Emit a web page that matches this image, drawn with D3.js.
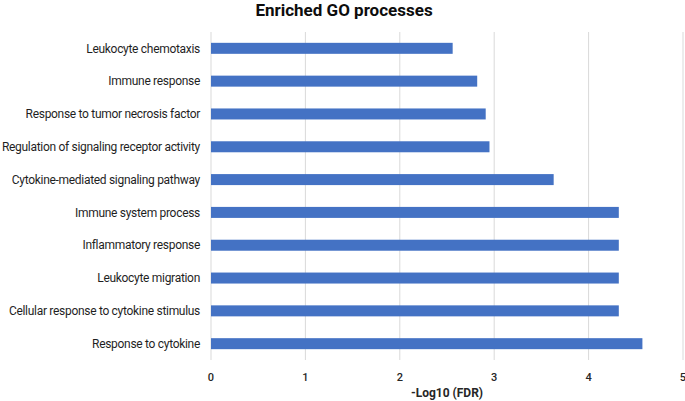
<!DOCTYPE html>
<html><head><meta charset="utf-8">
<script src="https://cdn.jsdelivr.net/npm/d3@7"></script>
<style>body{margin:0;background:#fff;}svg{display:block;font-family:Roboto,"Noto Sans",sans-serif;}</style>
</head><body>
<svg id="chart" width="685" height="401"></svg>
<script>
const categories = ["Leukocyte chemotaxis","Immune response","Response to tumor necrosis factor","Regulation of signaling receptor activity","Cytokine-mediated signaling pathway","Immune system process","Inflammatory response","Leukocyte migration","Cellular response to cytokine stimulus","Response to cytokine"];
const values = [2.56, 2.82, 2.91, 2.95, 3.63, 4.32, 4.32, 4.32, 4.32, 4.57];
const xTicks = [0,1,2,3,4,5];
const title = "Enriched GO processes";
const xTitle = "-Log10 (FDR)";

const svg = d3.select("#chart");
const mLeft = 211, mRight = 683, mTop = 32, mBottom = 360;
const x = d3.scaleLinear().domain([0,5]).range([mLeft,mRight]);
const y = d3.scaleBand().domain(categories).range([mTop,mBottom]).paddingInner(0.665).paddingOuter(0.33);

svg.append("g").selectAll("line").data(xTicks).join("line")
  .attr("x1",d=>x(d)).attr("x2",d=>x(d)).attr("y1",mTop).attr("y2",mBottom)
  .attr("stroke","#d9d9d9").attr("stroke-width",1);

svg.append("g").selectAll("rect").data(categories).join("rect")
  .attr("x",x(0)).attr("y",d=>y(d)).attr("height",y.bandwidth())
  .attr("width",(d,i)=>x(values[i])-x(0)).attr("fill","#4472C4");

svg.append("g").selectAll("text").data(categories).join("text")
  .attr("x",200).attr("y",d=>y(d)+y.bandwidth()/2).attr("dy","0.35em")
  .attr("text-anchor","end").attr("font-size",12).attr("fill","#1f1f1f")
  .attr("letter-spacing","-0.3px").text(d=>d);

svg.append("g").selectAll("text").data(xTicks).join("text")
  .attr("x",d=>x(d)).attr("y",377).attr("dy","0.35em")
  .attr("text-anchor","middle").attr("font-size",11).attr("font-weight",500).attr("fill","#262626").text(d=>d);

svg.append("text").attr("x",(mLeft+mRight)/2).attr("y",393).attr("dy","0.35em")
  .attr("text-anchor","middle").attr("font-size",12).attr("font-weight","bold").attr("fill","#262626").text(xTitle);

svg.append("text").attr("x",344).attr("y",10).attr("dy","0.35em")
  .attr("text-anchor","middle").attr("font-size",17).attr("font-weight","bold").attr("fill","#0d0d0d").text(title);
</script>
</body></html>
